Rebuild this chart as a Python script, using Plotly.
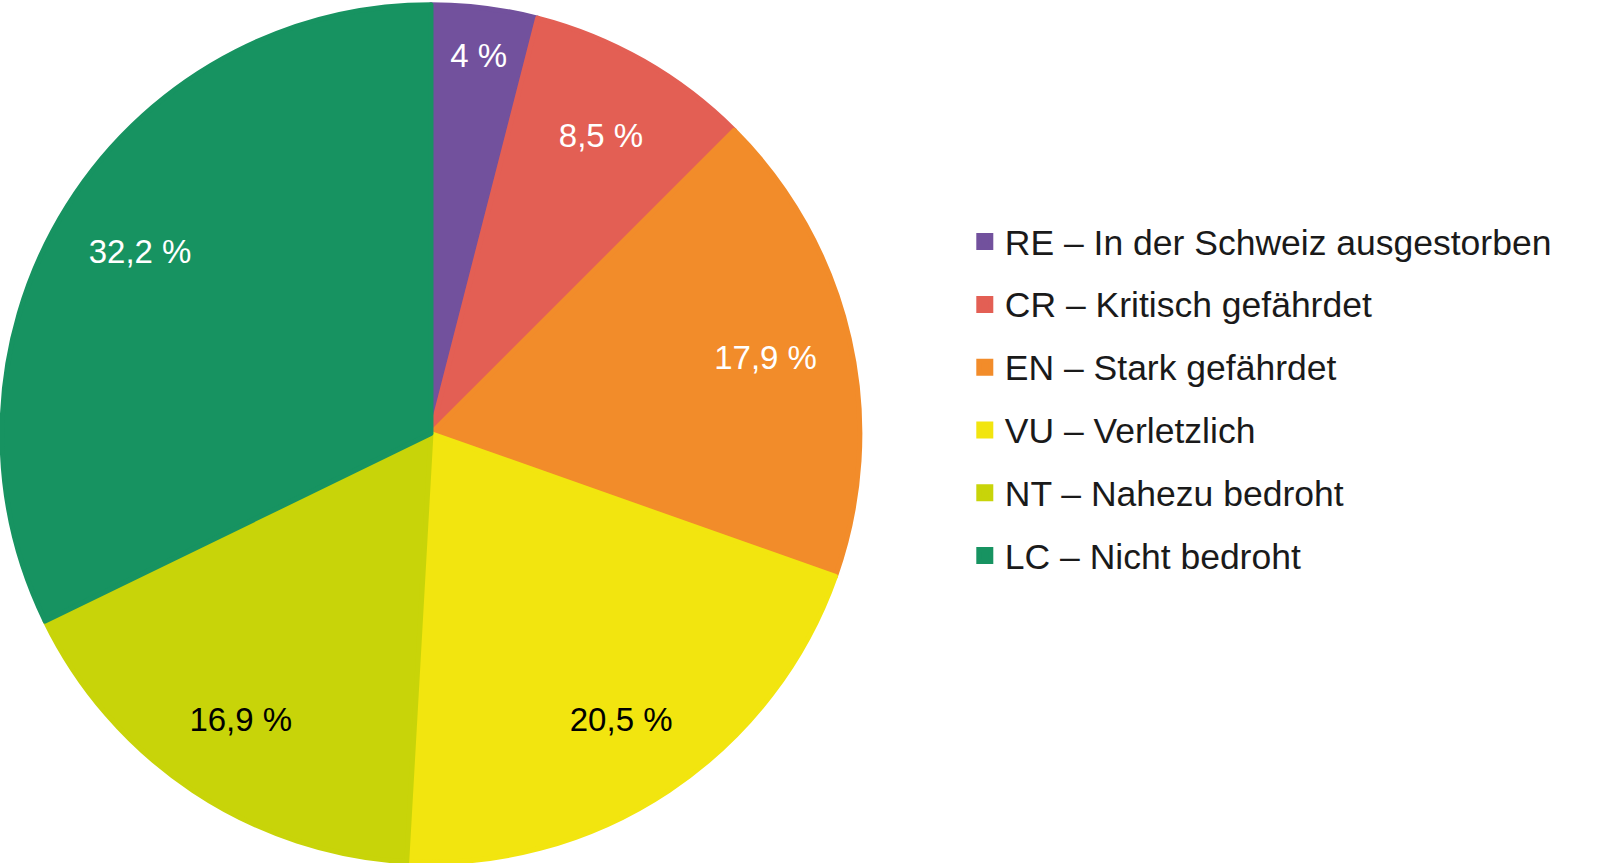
import plotly.graph_objects as go

# Data
codes = ["RE", "CR", "EN", "VU", "NT", "LC"]
names = ["In der Schweiz ausgestorben", "Kritisch gefährdet", "Stark gefährdet",
         "Verletzlich", "Nahezu bedroht", "Nicht bedroht"]
shares = [4, 8.5, 17.9, 20.5, 16.9, 32.2]

colors = ["#72519d", "#e35f54", "#f28c2a", "#f2e50f", "#c8d409", "#179361"]
text_colors = ["white", "white", "white", "black", "black", "white"]

labels = [f"{c} – {n}" for c, n in zip(codes, names)]
pct_text = [f"{v:g}".replace(".", ",") + " %" for v in shares]

FONT = "Liberation Sans, Arial"
dom = dict(x=[0.0006, 0.5381], y=[0.0006, 0.9946])

# legend entries: big legend font gives the row spacing, span sets the visible size
legend_labels = [f"<span style='font-size:35.5px;baseline-shift:5px'>{l}</span>" for l in labels]

# the coloured pie (also drives the legend)
fig = go.Figure(go.Pie(
    labels=legend_labels,
    values=shares,
    textinfo="none",
    marker=dict(colors=colors, line=dict(color=colors, width=5)),
    sort=False,
    direction="clockwise",
    rotation=0,
    domain=dom,
    hoverinfo="skip",
))

# transparent ring on top, only to place the percentage labels further out
fig.add_trace(go.Pie(
    labels=legend_labels,
    values=shares,
    text=pct_text,
    textinfo="text",
    textposition="inside",
    insidetextorientation="horizontal",
    textfont=dict(family=FONT, size=33, color=text_colors),
    hole=0.6,
    marker=dict(colors=["rgba(0,0,0,0)"] * len(shares)),
    sort=False,
    direction="clockwise",
    rotation=0,
    domain=dom,
    showlegend=False,
    hoverinfo="skip",
))

fig.update_layout(
    width=1600,
    height=863,
    margin=dict(l=0, r=0, t=0, b=0),
    paper_bgcolor="white",
    plot_bgcolor="white",
    font=dict(family=FONT, color="#1a1a1a"),
    uniformtext=dict(minsize=33, mode="show"),
    legend=dict(
        x=0.603, xanchor="left",
        y=0.538, yanchor="middle",
        font=dict(size=46, family=FONT, color="#1a1a1a"),
        bgcolor="rgba(0,0,0,0)",
    ),
)

# drop the default 8px page margin so the chart sits at the window corner
fig.write_html("out.html", config={"displayModeBar": False},
               post_script="document.body.style.margin='0';")
